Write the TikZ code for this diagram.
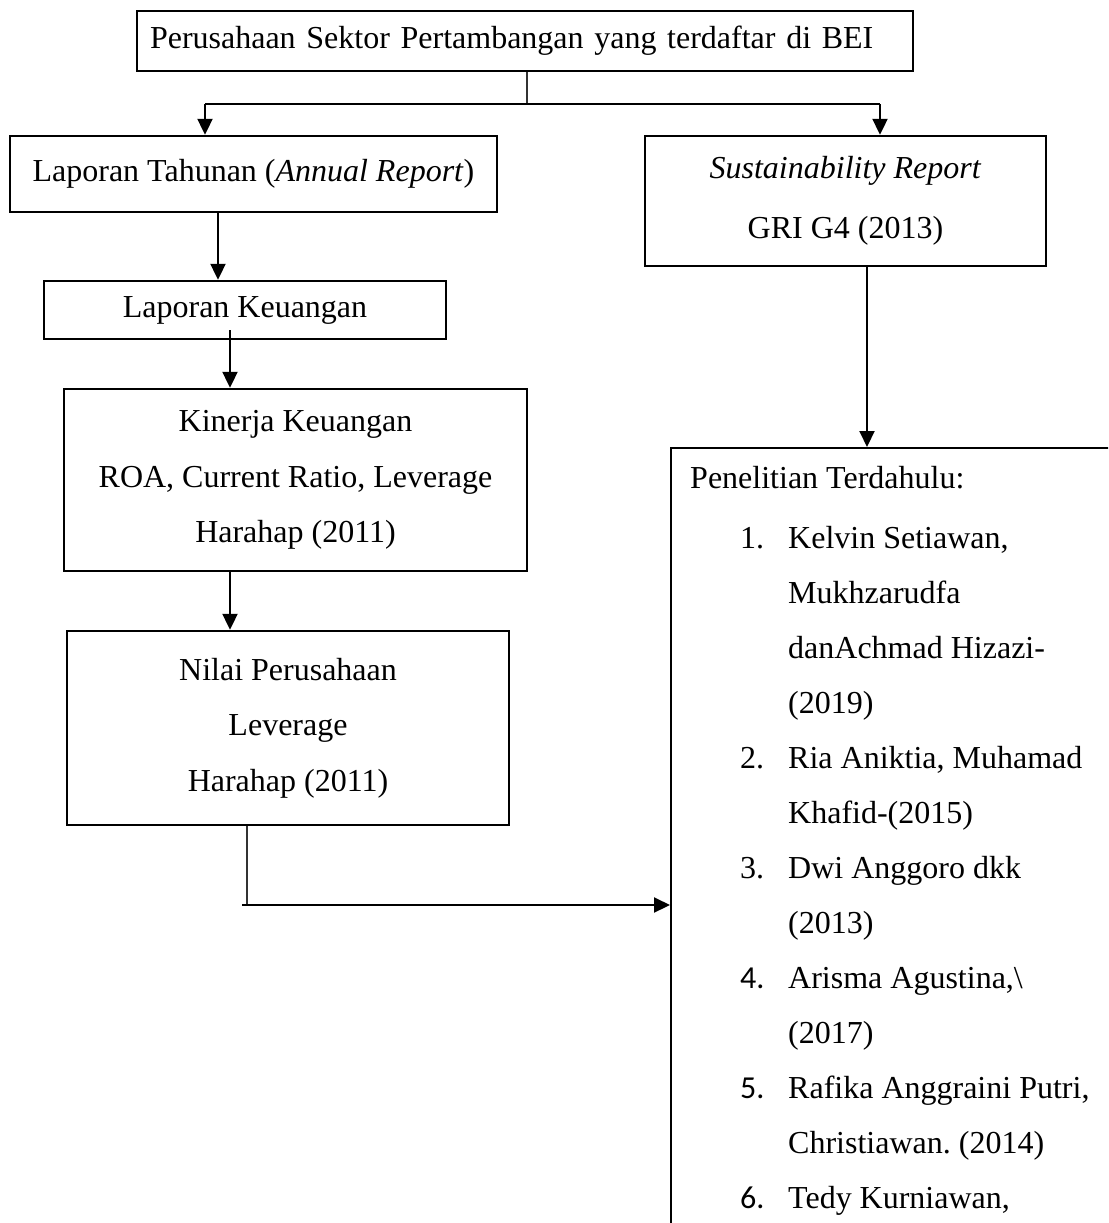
\documentclass[tikz,border=0pt]{standalone}
\usepackage{fontspec}
\setmainfont{Liberation Serif}
\newfontfamily\calfont{Carlito}
\usetikzlibrary{arrows.meta}
\frenchspacing
\begin{document}
\begin{tikzpicture}[x=1pt,y=-1pt,
  font=\fontsize{32}{55.5}\selectfont,
  box/.style={draw, line width=2.4pt, inner sep=0pt, align=center},
  arr/.style={line width=2.1pt, -{Triangle[length=16pt,width=15pt]}},
  conn/.style={line width=1.8pt},
  thinline/.style={line width=1.3pt, black!80},
  txt/.style={anchor=base west, inner sep=0pt}]
\useasboundingbox (0,0) rectangle (1108,1223);
\clip (0,0) rectangle (1108,1223);

\node[box, line width=2.9pt, text width=750pt, align=left, inner xsep=13pt, minimum height=60pt] (top) at (525,41) {Perusahaan Sektor Pertambangan yang terdaftar di BEI};
\node[box, minimum width=487pt, minimum height=76pt] (lt) at (253.5,174) {Laporan Tahunan (\textit{Annual Report})};
\node[box, minimum width=402pt, minimum height=58pt] (lk) at (245,310) {Laporan Keuangan};
\node[box, minimum width=463pt, minimum height=182pt] (kin) at (295.5,480) {Kinerja Keuangan\\ROA, Current Ratio, Leverage\\Harahap (2011)};
\node[box, minimum width=442pt, minimum height=194pt] (nilai) at (288,728) {Nilai Perusahaan\\Leverage\\Harahap (2011)};
\node[box, minimum width=401pt, minimum height=130pt] (sust) at (845.5,201) {\textit{Sustainability Report}\\[4.5pt]GRI G4 (2013)};
\node[box, anchor=north west, minimum width=480pt, minimum height=830pt] (lit) at (670,447) {};

\coordinate (hy) at (0,104);
\coordinate (hz) at (0,905);

% top splitter
\draw[thinline] ([xshift=2pt]top.south) -- ([xshift=2pt]top.south |- hy);
\draw[conn] ([xshift=-48.5pt]lt.north |- hy) -- ([xshift=34.5pt]sust.north |- hy);
\draw[arr] ([xshift=-48.5pt]lt.north |- hy) -- ([xshift=-48.5pt]lt.north);
\draw[arr] ([xshift=34.5pt]sust.north |- hy) -- ([xshift=34.5pt]sust.north);

% left chain
\draw[arr] ([xshift=-35.5pt]lt.south) -- ([xshift=-35.5pt]lt.south |- lk.north);
\draw[arr] ([xshift=-15pt,yshift=10pt]lk.south) -- ([xshift=-15pt]lk.south |- kin.north);
\draw[arr] ([xshift=-65.5pt]kin.south) -- ([xshift=-65.5pt]kin.south |- nilai.north);
\draw[thinline] ([xshift=-41pt]nilai.south) -- ([xshift=-41pt]nilai.south |- hz);
\draw[arr] ([xshift=-46pt]nilai.south |- hz) -- (lit.west |- hz);

% right chain
\draw[arr] ([xshift=21.5pt]sust.south) -- ([xshift=21.5pt]sust.south |- lit.north);

% list text
\node[txt] (t0) at (690,488) {Penelitian Terdahulu:};
\node[txt] (n1) at (740,548) {1.};
\node[txt] (t1a) at (788,548) {Kelvin Setiawan,};
\node[txt] (t1b) at (788,603) {Mukhzarudfa};
\node[txt] (t1c) at (788,658) {danAchmad Hizazi-};
\node[txt] (t1d) at (788,713) {(2019)};
\node[txt] (n2) at (740,768) {2.};
\node[txt] (t2a) at (788,768) {Ria Aniktia, Muhamad};
\node[txt] (t2b) at (788,823) {Khafid-(2015)};
\node[txt] (n3) at (740,878) {3.};
\node[txt] (t3a) at (788,878) {Dwi Anggoro dkk};
\node[txt] (t3b) at (788,933) {(2013)};
\node[txt, font=\calfont\fontsize{32}{38}\selectfont] (n4) at (740,988) {4.};
\node[txt] (t4a) at (788,988) {Arisma Agustina,\textbackslash};
\node[txt] (t4b) at (788,1043) {(2017)};
\node[txt, font=\calfont\fontsize{32}{38}\selectfont] (n5) at (740,1098) {5.};
\node[txt] (t5a) at (788,1098) {Rafika Anggraini Putri,};
\node[txt] (t5b) at (788,1153) {Christiawan. (2014)};
\node[txt, font=\calfont\fontsize{32}{38}\selectfont] (n6) at (740,1208) {6.};
\node[txt] (t6a) at (788,1208) {Tedy Kurniawan,};
\end{tikzpicture}
\end{document}
